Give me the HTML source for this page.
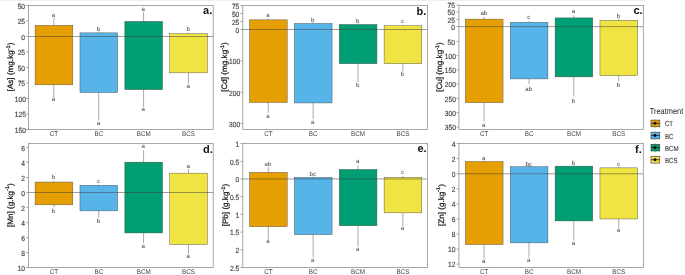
<!DOCTYPE html>
<html><head><meta charset="utf-8"><title>Figure</title>
<style>html,body{margin:0;padding:0;background:#fff;width:685px;height:275px;overflow:hidden;font-family:"Liberation Sans",sans-serif;}</style>
</head><body>
<svg width="685" height="275" viewBox="0 0 685 275" style="display:block;position:absolute;left:0;top:0;will-change:transform;opacity:0.999" text-rendering="geometricPrecision" font-family="Liberation Sans, sans-serif">
<rect x="0" y="0" width="685" height="275" fill="#ffffff"/>
<rect x="0" y="0" width="644.7" height="1" fill="#eeeeee"/>
<line x1="53.85" y1="17.95" x2="53.85" y2="97.65" stroke="#707070" stroke-width="0.6"/>
<rect x="35.10" y="25.35" width="37.70" height="59.50" fill="#E69F00" stroke="#505050" stroke-width="0.45"/>
<text x="53.55" y="16.65" font-size="6.1" text-anchor="middle" fill="#454545">a</text>
<text x="53.55" y="101.45" font-size="6.1" text-anchor="middle" fill="#454545">a</text>
<line x1="98.72" y1="31.65" x2="98.72" y2="120.35" stroke="#707070" stroke-width="0.6"/>
<rect x="79.97" y="32.85" width="37.70" height="59.70" fill="#56B4E9" stroke="#505050" stroke-width="0.45"/>
<text x="98.42" y="30.75" font-size="6.1" text-anchor="middle" fill="#454545">b</text>
<text x="98.42" y="125.25" font-size="6.1" text-anchor="middle" fill="#454545">a</text>
<line x1="143.59" y1="11.85" x2="143.59" y2="106.85" stroke="#707070" stroke-width="0.6"/>
<rect x="124.84" y="21.35" width="37.70" height="68.30" fill="#009E73" stroke="#505050" stroke-width="0.45"/>
<text x="143.29" y="10.85" font-size="6.1" text-anchor="middle" fill="#454545">a</text>
<text x="143.29" y="110.85" font-size="6.1" text-anchor="middle" fill="#454545">a</text>
<line x1="188.46" y1="32.65" x2="188.46" y2="83.75" stroke="#707070" stroke-width="0.6"/>
<rect x="169.71" y="33.65" width="37.70" height="39.20" fill="#F0E442" stroke="#505050" stroke-width="0.45"/>
<text x="188.16" y="31.45" font-size="6.1" text-anchor="middle" fill="#454545">b</text>
<text x="188.16" y="87.55" font-size="6.1" text-anchor="middle" fill="#454545">a</text>
<line x1="28.55" y1="36.50" x2="213.20" y2="36.50" stroke="#3c3c3c" stroke-width="0.5"/>
<rect x="28.55" y="5.50" width="184.65" height="124.00" fill="none" stroke="#8a8a8a" stroke-width="0.75"/>
<line x1="26.15" y1="5.50" x2="28.55" y2="5.50" stroke="#8a8a8a" stroke-width="0.75"/>
<text transform="translate(25.05,8.75) scale(0.885,1)" font-size="7.5" text-anchor="end" fill="#454545" stroke="#454545" stroke-width="0.18">50</text>
<line x1="26.15" y1="21.00" x2="28.55" y2="21.00" stroke="#8a8a8a" stroke-width="0.75"/>
<text transform="translate(25.05,24.25) scale(0.885,1)" font-size="7.5" text-anchor="end" fill="#454545" stroke="#454545" stroke-width="0.18">25</text>
<line x1="26.15" y1="36.50" x2="28.55" y2="36.50" stroke="#8a8a8a" stroke-width="0.75"/>
<text transform="translate(25.05,39.75) scale(0.885,1)" font-size="7.5" text-anchor="end" fill="#454545" stroke="#454545" stroke-width="0.18">0</text>
<line x1="26.15" y1="52.00" x2="28.55" y2="52.00" stroke="#8a8a8a" stroke-width="0.75"/>
<text transform="translate(25.05,55.25) scale(0.885,1)" font-size="7.5" text-anchor="end" fill="#454545" stroke="#454545" stroke-width="0.18">25</text>
<line x1="26.15" y1="67.50" x2="28.55" y2="67.50" stroke="#8a8a8a" stroke-width="0.75"/>
<text transform="translate(25.05,70.75) scale(0.885,1)" font-size="7.5" text-anchor="end" fill="#454545" stroke="#454545" stroke-width="0.18">50</text>
<line x1="26.15" y1="83.00" x2="28.55" y2="83.00" stroke="#8a8a8a" stroke-width="0.75"/>
<text transform="translate(25.05,86.25) scale(0.885,1)" font-size="7.5" text-anchor="end" fill="#454545" stroke="#454545" stroke-width="0.18">75</text>
<line x1="26.15" y1="98.50" x2="28.55" y2="98.50" stroke="#8a8a8a" stroke-width="0.75"/>
<text transform="translate(25.95,101.75) scale(0.885,1)" font-size="7.5" text-anchor="end" fill="#454545" stroke="#454545" stroke-width="0.18">100</text>
<line x1="26.15" y1="114.00" x2="28.55" y2="114.00" stroke="#8a8a8a" stroke-width="0.75"/>
<text transform="translate(25.95,117.25) scale(0.885,1)" font-size="7.5" text-anchor="end" fill="#454545" stroke="#454545" stroke-width="0.18">125</text>
<line x1="26.15" y1="129.50" x2="28.55" y2="129.50" stroke="#8a8a8a" stroke-width="0.75"/>
<text transform="translate(25.95,132.75) scale(0.885,1)" font-size="7.5" text-anchor="end" fill="#454545" stroke="#454545" stroke-width="0.18">150</text>
<text transform="translate(53.95,136.10) scale(0.93,1)" font-size="6.75" text-anchor="middle" fill="#454545">CT</text>
<text transform="translate(98.82,136.10) scale(0.93,1)" font-size="6.75" text-anchor="middle" fill="#454545">BC</text>
<text transform="translate(143.69,136.10) scale(0.93,1)" font-size="6.75" text-anchor="middle" fill="#454545">BCM</text>
<text transform="translate(188.56,136.10) scale(0.93,1)" font-size="6.75" text-anchor="middle" fill="#454545">BCS</text>
<text x="212.30" y="14.10" font-size="11" text-anchor="end" fill="#111" font-weight="bold">a.</text>
<text transform="translate(13.15,67.00) rotate(-90) scale(1.03,1)" font-size="7.9" text-anchor="middle" fill="#1a1a1a" stroke="#1a1a1a" stroke-width="0.25">[As] (mg.kg<tspan font-size="5.4" dy="-3.4">-1</tspan><tspan dy="3.4">)</tspan></text>
<line x1="268.25" y1="18.65" x2="268.25" y2="113.15" stroke="#707070" stroke-width="0.6"/>
<rect x="249.50" y="19.85" width="37.70" height="82.60" fill="#E69F00" stroke="#505050" stroke-width="0.45"/>
<text x="267.95" y="16.95" font-size="6.1" text-anchor="middle" fill="#454545">a</text>
<text x="267.95" y="118.15" font-size="6.1" text-anchor="middle" fill="#454545">a</text>
<line x1="313.12" y1="22.45" x2="313.12" y2="119.35" stroke="#707070" stroke-width="0.6"/>
<rect x="294.37" y="23.45" width="37.70" height="79.50" fill="#56B4E9" stroke="#505050" stroke-width="0.45"/>
<text x="312.82" y="21.55" font-size="6.1" text-anchor="middle" fill="#454545">b</text>
<text x="312.82" y="124.05" font-size="6.1" text-anchor="middle" fill="#454545">a</text>
<line x1="357.99" y1="23.45" x2="357.99" y2="82.05" stroke="#707070" stroke-width="0.6"/>
<rect x="339.24" y="24.45" width="37.70" height="39.30" fill="#009E73" stroke="#505050" stroke-width="0.45"/>
<text x="357.69" y="22.55" font-size="6.1" text-anchor="middle" fill="#454545">b</text>
<text x="357.69" y="86.95" font-size="6.1" text-anchor="middle" fill="#454545">b</text>
<line x1="402.86" y1="24.75" x2="402.86" y2="71.45" stroke="#707070" stroke-width="0.6"/>
<rect x="384.11" y="25.75" width="37.70" height="38.00" fill="#F0E442" stroke="#505050" stroke-width="0.45"/>
<text x="402.56" y="23.25" font-size="6.1" text-anchor="middle" fill="#454545">c</text>
<text x="402.56" y="76.35" font-size="6.1" text-anchor="middle" fill="#454545">b</text>
<line x1="242.80" y1="29.50" x2="427.50" y2="29.50" stroke="#3c3c3c" stroke-width="0.5"/>
<rect x="242.80" y="5.50" width="184.70" height="124.00" fill="none" stroke="#8a8a8a" stroke-width="0.75"/>
<line x1="240.40" y1="5.50" x2="242.80" y2="5.50" stroke="#8a8a8a" stroke-width="0.75"/>
<text transform="translate(239.30,8.75) scale(0.885,1)" font-size="7.5" text-anchor="end" fill="#454545" stroke="#454545" stroke-width="0.18">75</text>
<line x1="240.40" y1="13.50" x2="242.80" y2="13.50" stroke="#8a8a8a" stroke-width="0.75"/>
<text transform="translate(239.30,16.75) scale(0.885,1)" font-size="7.5" text-anchor="end" fill="#454545" stroke="#454545" stroke-width="0.18">50</text>
<line x1="240.40" y1="21.50" x2="242.80" y2="21.50" stroke="#8a8a8a" stroke-width="0.75"/>
<text transform="translate(239.30,24.75) scale(0.885,1)" font-size="7.5" text-anchor="end" fill="#454545" stroke="#454545" stroke-width="0.18">25</text>
<line x1="240.40" y1="29.50" x2="242.80" y2="29.50" stroke="#8a8a8a" stroke-width="0.75"/>
<text transform="translate(239.30,32.75) scale(0.885,1)" font-size="7.5" text-anchor="end" fill="#454545" stroke="#454545" stroke-width="0.18">0</text>
<line x1="240.40" y1="60.88" x2="242.80" y2="60.88" stroke="#8a8a8a" stroke-width="0.75"/>
<text transform="translate(240.20,64.13) scale(0.885,1)" font-size="7.5" text-anchor="end" fill="#454545" stroke="#454545" stroke-width="0.18">100</text>
<line x1="240.40" y1="92.26" x2="242.80" y2="92.26" stroke="#8a8a8a" stroke-width="0.75"/>
<text transform="translate(240.20,95.51) scale(0.885,1)" font-size="7.5" text-anchor="end" fill="#454545" stroke="#454545" stroke-width="0.18">200</text>
<line x1="240.40" y1="123.64" x2="242.80" y2="123.64" stroke="#8a8a8a" stroke-width="0.75"/>
<text transform="translate(240.20,126.89) scale(0.885,1)" font-size="7.5" text-anchor="end" fill="#454545" stroke="#454545" stroke-width="0.18">300</text>
<text transform="translate(268.35,136.10) scale(0.93,1)" font-size="6.75" text-anchor="middle" fill="#454545">CT</text>
<text transform="translate(313.22,136.10) scale(0.93,1)" font-size="6.75" text-anchor="middle" fill="#454545">BC</text>
<text transform="translate(358.09,136.10) scale(0.93,1)" font-size="6.75" text-anchor="middle" fill="#454545">BCM</text>
<text transform="translate(402.96,136.10) scale(0.93,1)" font-size="6.75" text-anchor="middle" fill="#454545">BCS</text>
<text x="426.20" y="15.30" font-size="11" text-anchor="end" fill="#111" font-weight="bold">b.</text>
<text transform="translate(227.40,67.00) rotate(-90) scale(1.03,1)" font-size="7.9" text-anchor="middle" fill="#1a1a1a" stroke="#1a1a1a" stroke-width="0.25">[Cd] (mg.kg<tspan font-size="5.4" dy="-3.4">-1</tspan><tspan dy="3.4">)</tspan></text>
<line x1="484.10" y1="16.90" x2="484.10" y2="121.30" stroke="#707070" stroke-width="0.6"/>
<rect x="465.35" y="19.10" width="37.70" height="83.60" fill="#E69F00" stroke="#505050" stroke-width="0.45"/>
<text x="483.80" y="14.80" font-size="6.1" text-anchor="middle" fill="#454545">ab</text>
<text x="483.80" y="126.60" font-size="6.1" text-anchor="middle" fill="#454545">a</text>
<line x1="528.97" y1="21.30" x2="528.97" y2="84.00" stroke="#707070" stroke-width="0.6"/>
<rect x="510.22" y="22.30" width="37.70" height="56.60" fill="#56B4E9" stroke="#505050" stroke-width="0.45"/>
<text x="528.67" y="19.30" font-size="6.1" text-anchor="middle" fill="#454545">c</text>
<text x="528.67" y="90.70" font-size="6.1" text-anchor="middle" fill="#454545">ab</text>
<line x1="573.84" y1="15.40" x2="573.84" y2="96.50" stroke="#707070" stroke-width="0.6"/>
<rect x="555.09" y="17.90" width="37.70" height="59.00" fill="#009E73" stroke="#505050" stroke-width="0.45"/>
<text x="573.54" y="13.30" font-size="6.1" text-anchor="middle" fill="#454545">a</text>
<text x="573.54" y="102.90" font-size="6.1" text-anchor="middle" fill="#454545">b</text>
<line x1="618.71" y1="18.90" x2="618.71" y2="80.90" stroke="#707070" stroke-width="0.6"/>
<rect x="599.96" y="20.30" width="37.70" height="55.40" fill="#F0E442" stroke="#505050" stroke-width="0.45"/>
<text x="618.41" y="18.00" font-size="6.1" text-anchor="middle" fill="#454545">b</text>
<text x="618.41" y="87.00" font-size="6.1" text-anchor="middle" fill="#454545">b</text>
<line x1="458.95" y1="26.65" x2="643.30" y2="26.65" stroke="#3c3c3c" stroke-width="0.5"/>
<rect x="458.95" y="5.50" width="184.35" height="124.00" fill="none" stroke="#8a8a8a" stroke-width="0.75"/>
<line x1="456.55" y1="5.05" x2="458.95" y2="5.05" stroke="#8a8a8a" stroke-width="0.75"/>
<text transform="translate(454.95,8.30) scale(0.885,1)" font-size="7.5" text-anchor="end" fill="#454545" stroke="#454545" stroke-width="0.18">75</text>
<line x1="456.55" y1="12.20" x2="458.95" y2="12.20" stroke="#8a8a8a" stroke-width="0.75"/>
<text transform="translate(454.95,15.45) scale(0.885,1)" font-size="7.5" text-anchor="end" fill="#454545" stroke="#454545" stroke-width="0.18">50</text>
<line x1="456.55" y1="19.35" x2="458.95" y2="19.35" stroke="#8a8a8a" stroke-width="0.75"/>
<text transform="translate(454.95,22.60) scale(0.885,1)" font-size="7.5" text-anchor="end" fill="#454545" stroke="#454545" stroke-width="0.18">25</text>
<line x1="456.55" y1="26.50" x2="458.95" y2="26.50" stroke="#8a8a8a" stroke-width="0.75"/>
<text transform="translate(454.95,29.75) scale(0.885,1)" font-size="7.5" text-anchor="end" fill="#454545" stroke="#454545" stroke-width="0.18">0</text>
<line x1="456.55" y1="41.41" x2="458.95" y2="41.41" stroke="#8a8a8a" stroke-width="0.75"/>
<text transform="translate(454.95,44.66) scale(0.885,1)" font-size="7.5" text-anchor="end" fill="#454545" stroke="#454545" stroke-width="0.18">50</text>
<line x1="456.55" y1="55.68" x2="458.95" y2="55.68" stroke="#8a8a8a" stroke-width="0.75"/>
<text transform="translate(455.85,58.93) scale(0.885,1)" font-size="7.5" text-anchor="end" fill="#454545" stroke="#454545" stroke-width="0.18">100</text>
<line x1="456.55" y1="69.94" x2="458.95" y2="69.94" stroke="#8a8a8a" stroke-width="0.75"/>
<text transform="translate(455.85,73.19) scale(0.885,1)" font-size="7.5" text-anchor="end" fill="#454545" stroke="#454545" stroke-width="0.18">150</text>
<line x1="456.55" y1="84.21" x2="458.95" y2="84.21" stroke="#8a8a8a" stroke-width="0.75"/>
<text transform="translate(455.85,87.46) scale(0.885,1)" font-size="7.5" text-anchor="end" fill="#454545" stroke="#454545" stroke-width="0.18">200</text>
<line x1="456.55" y1="98.47" x2="458.95" y2="98.47" stroke="#8a8a8a" stroke-width="0.75"/>
<text transform="translate(455.85,101.72) scale(0.885,1)" font-size="7.5" text-anchor="end" fill="#454545" stroke="#454545" stroke-width="0.18">250</text>
<line x1="456.55" y1="112.74" x2="458.95" y2="112.74" stroke="#8a8a8a" stroke-width="0.75"/>
<text transform="translate(455.85,115.99) scale(0.885,1)" font-size="7.5" text-anchor="end" fill="#454545" stroke="#454545" stroke-width="0.18">300</text>
<line x1="456.55" y1="127.00" x2="458.95" y2="127.00" stroke="#8a8a8a" stroke-width="0.75"/>
<text transform="translate(455.85,130.25) scale(0.885,1)" font-size="7.5" text-anchor="end" fill="#454545" stroke="#454545" stroke-width="0.18">350</text>
<text transform="translate(484.20,136.10) scale(0.93,1)" font-size="6.75" text-anchor="middle" fill="#454545">CT</text>
<text transform="translate(529.07,136.10) scale(0.93,1)" font-size="6.75" text-anchor="middle" fill="#454545">BC</text>
<text transform="translate(573.94,136.10) scale(0.93,1)" font-size="6.75" text-anchor="middle" fill="#454545">BCM</text>
<text transform="translate(618.81,136.10) scale(0.93,1)" font-size="6.75" text-anchor="middle" fill="#454545">BCS</text>
<text x="642.60" y="14.10" font-size="11" text-anchor="end" fill="#111" font-weight="bold">c.</text>
<text transform="translate(442.15,67.00) rotate(-90) scale(1.03,1)" font-size="7.9" text-anchor="middle" fill="#1a1a1a" stroke="#1a1a1a" stroke-width="0.25">[Cu] (mg.kg<tspan font-size="5.4" dy="-3.4">-1</tspan><tspan dy="3.4">)</tspan></text>
<line x1="53.85" y1="180.75" x2="53.85" y2="207.15" stroke="#707070" stroke-width="0.6"/>
<rect x="35.10" y="182.05" width="37.70" height="22.80" fill="#E69F00" stroke="#505050" stroke-width="0.45"/>
<text x="53.55" y="179.25" font-size="6.1" text-anchor="middle" fill="#454545">b</text>
<text x="53.55" y="212.75" font-size="6.1" text-anchor="middle" fill="#454545">b</text>
<line x1="98.72" y1="184.45" x2="98.72" y2="217.75" stroke="#707070" stroke-width="0.6"/>
<rect x="79.97" y="185.25" width="37.70" height="25.60" fill="#56B4E9" stroke="#505050" stroke-width="0.45"/>
<text x="98.42" y="182.85" font-size="6.1" text-anchor="middle" fill="#454545">c</text>
<text x="98.42" y="223.45" font-size="6.1" text-anchor="middle" fill="#454545">b</text>
<line x1="143.59" y1="150.25" x2="143.59" y2="243.15" stroke="#707070" stroke-width="0.6"/>
<rect x="124.84" y="162.15" width="37.70" height="70.80" fill="#009E73" stroke="#505050" stroke-width="0.45"/>
<text x="143.29" y="148.35" font-size="6.1" text-anchor="middle" fill="#454545">a</text>
<text x="143.29" y="247.65" font-size="6.1" text-anchor="middle" fill="#454545">a</text>
<line x1="188.46" y1="169.15" x2="188.46" y2="253.75" stroke="#707070" stroke-width="0.6"/>
<rect x="169.71" y="173.15" width="37.70" height="71.40" fill="#F0E442" stroke="#505050" stroke-width="0.45"/>
<text x="188.16" y="167.75" font-size="6.1" text-anchor="middle" fill="#454545">a</text>
<text x="188.16" y="257.55" font-size="6.1" text-anchor="middle" fill="#454545">a</text>
<line x1="28.55" y1="192.50" x2="213.20" y2="192.50" stroke="#3c3c3c" stroke-width="0.5"/>
<rect x="28.55" y="143.60" width="184.65" height="124.00" fill="none" stroke="#8a8a8a" stroke-width="0.75"/>
<line x1="26.15" y1="147.30" x2="28.55" y2="147.30" stroke="#8a8a8a" stroke-width="0.75"/>
<text transform="translate(25.05,150.55) scale(0.885,1)" font-size="7.5" text-anchor="end" fill="#454545" stroke="#454545" stroke-width="0.18">6</text>
<line x1="26.15" y1="162.40" x2="28.55" y2="162.40" stroke="#8a8a8a" stroke-width="0.75"/>
<text transform="translate(25.05,165.65) scale(0.885,1)" font-size="7.5" text-anchor="end" fill="#454545" stroke="#454545" stroke-width="0.18">4</text>
<line x1="26.15" y1="177.50" x2="28.55" y2="177.50" stroke="#8a8a8a" stroke-width="0.75"/>
<text transform="translate(25.05,180.75) scale(0.885,1)" font-size="7.5" text-anchor="end" fill="#454545" stroke="#454545" stroke-width="0.18">2</text>
<line x1="26.15" y1="192.60" x2="28.55" y2="192.60" stroke="#8a8a8a" stroke-width="0.75"/>
<text transform="translate(25.05,195.85) scale(0.885,1)" font-size="7.5" text-anchor="end" fill="#454545" stroke="#454545" stroke-width="0.18">0</text>
<line x1="26.15" y1="207.60" x2="28.55" y2="207.60" stroke="#8a8a8a" stroke-width="0.75"/>
<text transform="translate(25.05,210.85) scale(0.885,1)" font-size="7.5" text-anchor="end" fill="#454545" stroke="#454545" stroke-width="0.18">2</text>
<line x1="26.15" y1="222.60" x2="28.55" y2="222.60" stroke="#8a8a8a" stroke-width="0.75"/>
<text transform="translate(25.05,225.85) scale(0.885,1)" font-size="7.5" text-anchor="end" fill="#454545" stroke="#454545" stroke-width="0.18">4</text>
<line x1="26.15" y1="237.60" x2="28.55" y2="237.60" stroke="#8a8a8a" stroke-width="0.75"/>
<text transform="translate(25.05,240.85) scale(0.885,1)" font-size="7.5" text-anchor="end" fill="#454545" stroke="#454545" stroke-width="0.18">6</text>
<line x1="26.15" y1="252.60" x2="28.55" y2="252.60" stroke="#8a8a8a" stroke-width="0.75"/>
<text transform="translate(25.05,255.85) scale(0.885,1)" font-size="7.5" text-anchor="end" fill="#454545" stroke="#454545" stroke-width="0.18">8</text>
<line x1="26.15" y1="267.60" x2="28.55" y2="267.60" stroke="#8a8a8a" stroke-width="0.75"/>
<text transform="translate(25.05,270.85) scale(0.885,1)" font-size="7.5" text-anchor="end" fill="#454545" stroke="#454545" stroke-width="0.18">10</text>
<text transform="translate(53.95,274.20) scale(0.93,1)" font-size="6.75" text-anchor="middle" fill="#454545">CT</text>
<text transform="translate(98.82,274.20) scale(0.93,1)" font-size="6.75" text-anchor="middle" fill="#454545">BC</text>
<text transform="translate(143.69,274.20) scale(0.93,1)" font-size="6.75" text-anchor="middle" fill="#454545">BCM</text>
<text transform="translate(188.56,274.20) scale(0.93,1)" font-size="6.75" text-anchor="middle" fill="#454545">BCS</text>
<text x="212.70" y="153.40" font-size="11" text-anchor="end" fill="#111" font-weight="bold">d.</text>
<text transform="translate(12.65,205.10) rotate(-90) scale(1.03,1)" font-size="7.9" text-anchor="middle" fill="#1a1a1a" stroke="#1a1a1a" stroke-width="0.25">[Mn] (g.kg<tspan font-size="5.4" dy="-3.4">-1</tspan><tspan dy="3.4">)</tspan></text>
<line x1="268.25" y1="167.15" x2="268.25" y2="239.65" stroke="#707070" stroke-width="0.6"/>
<rect x="249.50" y="172.35" width="37.70" height="54.40" fill="#E69F00" stroke="#505050" stroke-width="0.45"/>
<text x="267.95" y="166.05" font-size="6.1" text-anchor="middle" fill="#454545">ab</text>
<text x="267.95" y="243.45" font-size="6.1" text-anchor="middle" fill="#454545">a</text>
<line x1="313.12" y1="176.55" x2="313.12" y2="257.45" stroke="#707070" stroke-width="0.6"/>
<rect x="294.37" y="177.35" width="37.70" height="57.30" fill="#56B4E9" stroke="#505050" stroke-width="0.45"/>
<text x="312.82" y="175.75" font-size="6.1" text-anchor="middle" fill="#454545">bc</text>
<text x="312.82" y="262.45" font-size="6.1" text-anchor="middle" fill="#454545">a</text>
<line x1="357.99" y1="165.45" x2="357.99" y2="246.35" stroke="#707070" stroke-width="0.6"/>
<rect x="339.24" y="169.45" width="37.70" height="56.30" fill="#009E73" stroke="#505050" stroke-width="0.45"/>
<text x="357.69" y="162.75" font-size="6.1" text-anchor="middle" fill="#454545">a</text>
<text x="357.69" y="250.65" font-size="6.1" text-anchor="middle" fill="#454545">a</text>
<line x1="402.86" y1="176.15" x2="402.86" y2="225.95" stroke="#707070" stroke-width="0.6"/>
<rect x="384.11" y="177.35" width="37.70" height="35.50" fill="#F0E442" stroke="#505050" stroke-width="0.45"/>
<text x="402.56" y="174.15" font-size="6.1" text-anchor="middle" fill="#454545">c</text>
<text x="402.56" y="230.25" font-size="6.1" text-anchor="middle" fill="#454545">a</text>
<line x1="242.80" y1="178.95" x2="427.50" y2="178.95" stroke="#3c3c3c" stroke-width="0.5"/>
<rect x="242.80" y="143.60" width="184.70" height="124.00" fill="none" stroke="#8a8a8a" stroke-width="0.75"/>
<line x1="240.40" y1="143.60" x2="242.80" y2="143.60" stroke="#8a8a8a" stroke-width="0.75"/>
<text transform="translate(239.30,146.85) scale(0.885,1)" font-size="7.5" text-anchor="end" fill="#454545" stroke="#454545" stroke-width="0.18">1</text>
<line x1="240.40" y1="161.30" x2="242.80" y2="161.30" stroke="#8a8a8a" stroke-width="0.75"/>
<text transform="translate(239.30,164.55) scale(0.885,1)" font-size="7.5" text-anchor="end" fill="#454545" stroke="#454545" stroke-width="0.18">0.5</text>
<line x1="240.40" y1="179.00" x2="242.80" y2="179.00" stroke="#8a8a8a" stroke-width="0.75"/>
<text transform="translate(239.30,182.25) scale(0.885,1)" font-size="7.5" text-anchor="end" fill="#454545" stroke="#454545" stroke-width="0.18">0</text>
<line x1="240.40" y1="196.70" x2="242.80" y2="196.70" stroke="#8a8a8a" stroke-width="0.75"/>
<text transform="translate(239.30,199.95) scale(0.885,1)" font-size="7.5" text-anchor="end" fill="#454545" stroke="#454545" stroke-width="0.18">0.5</text>
<line x1="240.40" y1="214.40" x2="242.80" y2="214.40" stroke="#8a8a8a" stroke-width="0.75"/>
<text transform="translate(239.30,217.65) scale(0.885,1)" font-size="7.5" text-anchor="end" fill="#454545" stroke="#454545" stroke-width="0.18">1</text>
<line x1="240.40" y1="232.10" x2="242.80" y2="232.10" stroke="#8a8a8a" stroke-width="0.75"/>
<text transform="translate(239.30,235.35) scale(0.885,1)" font-size="7.5" text-anchor="end" fill="#454545" stroke="#454545" stroke-width="0.18">1.5</text>
<line x1="240.40" y1="249.80" x2="242.80" y2="249.80" stroke="#8a8a8a" stroke-width="0.75"/>
<text transform="translate(239.30,253.05) scale(0.885,1)" font-size="7.5" text-anchor="end" fill="#454545" stroke="#454545" stroke-width="0.18">2</text>
<line x1="240.40" y1="267.50" x2="242.80" y2="267.50" stroke="#8a8a8a" stroke-width="0.75"/>
<text transform="translate(239.30,270.75) scale(0.885,1)" font-size="7.5" text-anchor="end" fill="#454545" stroke="#454545" stroke-width="0.18">2.5</text>
<text transform="translate(268.35,274.20) scale(0.93,1)" font-size="6.75" text-anchor="middle" fill="#454545">CT</text>
<text transform="translate(313.22,274.20) scale(0.93,1)" font-size="6.75" text-anchor="middle" fill="#454545">BC</text>
<text transform="translate(358.09,274.20) scale(0.93,1)" font-size="6.75" text-anchor="middle" fill="#454545">BCM</text>
<text transform="translate(402.96,274.20) scale(0.93,1)" font-size="6.75" text-anchor="middle" fill="#454545">BCS</text>
<text x="426.70" y="151.70" font-size="11" text-anchor="end" fill="#111" font-weight="bold">e.</text>
<text transform="translate(228.00,205.10) rotate(-90) scale(1.03,1)" font-size="7.9" text-anchor="middle" fill="#1a1a1a" stroke="#1a1a1a" stroke-width="0.25">[Pb] (g.kg<tspan font-size="5.4" dy="-3.4">-1</tspan><tspan dy="3.4">)</tspan></text>
<line x1="484.10" y1="160.55" x2="484.10" y2="258.95" stroke="#707070" stroke-width="0.6"/>
<rect x="465.35" y="161.45" width="37.70" height="83.10" fill="#E69F00" stroke="#505050" stroke-width="0.45"/>
<text x="483.80" y="159.75" font-size="6.1" text-anchor="middle" fill="#454545">a</text>
<text x="483.80" y="262.95" font-size="6.1" text-anchor="middle" fill="#454545">a</text>
<line x1="528.97" y1="165.95" x2="528.97" y2="257.65" stroke="#707070" stroke-width="0.6"/>
<rect x="510.22" y="166.65" width="37.70" height="76.20" fill="#56B4E9" stroke="#505050" stroke-width="0.45"/>
<text x="528.67" y="165.75" font-size="6.1" text-anchor="middle" fill="#454545">bc</text>
<text x="528.67" y="261.95" font-size="6.1" text-anchor="middle" fill="#454545">a</text>
<line x1="573.84" y1="165.35" x2="573.84" y2="240.35" stroke="#707070" stroke-width="0.6"/>
<rect x="555.09" y="166.15" width="37.70" height="54.80" fill="#009E73" stroke="#505050" stroke-width="0.45"/>
<text x="573.54" y="164.75" font-size="6.1" text-anchor="middle" fill="#454545">b</text>
<text x="573.54" y="244.65" font-size="6.1" text-anchor="middle" fill="#454545">a</text>
<line x1="618.71" y1="166.95" x2="618.71" y2="228.35" stroke="#707070" stroke-width="0.6"/>
<rect x="599.96" y="167.85" width="37.70" height="51.10" fill="#F0E442" stroke="#505050" stroke-width="0.45"/>
<text x="618.41" y="165.95" font-size="6.1" text-anchor="middle" fill="#454545">c</text>
<text x="618.41" y="232.45" font-size="6.1" text-anchor="middle" fill="#454545">a</text>
<line x1="458.95" y1="173.80" x2="643.30" y2="173.80" stroke="#3c3c3c" stroke-width="0.5"/>
<rect x="458.95" y="143.60" width="184.35" height="124.00" fill="none" stroke="#8a8a8a" stroke-width="0.75"/>
<line x1="456.55" y1="143.60" x2="458.95" y2="143.60" stroke="#8a8a8a" stroke-width="0.75"/>
<text transform="translate(455.45,146.85) scale(0.885,1)" font-size="7.5" text-anchor="end" fill="#454545" stroke="#454545" stroke-width="0.18">4</text>
<line x1="456.55" y1="158.70" x2="458.95" y2="158.70" stroke="#8a8a8a" stroke-width="0.75"/>
<text transform="translate(455.45,161.95) scale(0.885,1)" font-size="7.5" text-anchor="end" fill="#454545" stroke="#454545" stroke-width="0.18">2</text>
<line x1="456.55" y1="173.80" x2="458.95" y2="173.80" stroke="#8a8a8a" stroke-width="0.75"/>
<text transform="translate(455.45,177.05) scale(0.885,1)" font-size="7.5" text-anchor="end" fill="#454545" stroke="#454545" stroke-width="0.18">0</text>
<line x1="456.55" y1="188.86" x2="458.95" y2="188.86" stroke="#8a8a8a" stroke-width="0.75"/>
<text transform="translate(455.45,192.11) scale(0.885,1)" font-size="7.5" text-anchor="end" fill="#454545" stroke="#454545" stroke-width="0.18">2</text>
<line x1="456.55" y1="203.92" x2="458.95" y2="203.92" stroke="#8a8a8a" stroke-width="0.75"/>
<text transform="translate(455.45,207.17) scale(0.885,1)" font-size="7.5" text-anchor="end" fill="#454545" stroke="#454545" stroke-width="0.18">4</text>
<line x1="456.55" y1="218.98" x2="458.95" y2="218.98" stroke="#8a8a8a" stroke-width="0.75"/>
<text transform="translate(455.45,222.23) scale(0.885,1)" font-size="7.5" text-anchor="end" fill="#454545" stroke="#454545" stroke-width="0.18">6</text>
<line x1="456.55" y1="234.04" x2="458.95" y2="234.04" stroke="#8a8a8a" stroke-width="0.75"/>
<text transform="translate(455.45,237.29) scale(0.885,1)" font-size="7.5" text-anchor="end" fill="#454545" stroke="#454545" stroke-width="0.18">8</text>
<line x1="456.55" y1="249.10" x2="458.95" y2="249.10" stroke="#8a8a8a" stroke-width="0.75"/>
<text transform="translate(455.45,252.35) scale(0.885,1)" font-size="7.5" text-anchor="end" fill="#454545" stroke="#454545" stroke-width="0.18">10</text>
<line x1="456.55" y1="264.16" x2="458.95" y2="264.16" stroke="#8a8a8a" stroke-width="0.75"/>
<text transform="translate(455.45,267.41) scale(0.885,1)" font-size="7.5" text-anchor="end" fill="#454545" stroke="#454545" stroke-width="0.18">12</text>
<text transform="translate(484.20,274.20) scale(0.93,1)" font-size="6.75" text-anchor="middle" fill="#454545">CT</text>
<text transform="translate(529.07,274.20) scale(0.93,1)" font-size="6.75" text-anchor="middle" fill="#454545">BC</text>
<text transform="translate(573.94,274.20) scale(0.93,1)" font-size="6.75" text-anchor="middle" fill="#454545">BCM</text>
<text transform="translate(618.81,274.20) scale(0.93,1)" font-size="6.75" text-anchor="middle" fill="#454545">BCS</text>
<text x="641.80" y="153.40" font-size="11" text-anchor="end" fill="#111" font-weight="bold">f.</text>
<text transform="translate(443.65,205.10) rotate(-90) scale(1.03,1)" font-size="7.9" text-anchor="middle" fill="#1a1a1a" stroke="#1a1a1a" stroke-width="0.25">[Zn] (g.kg<tspan font-size="5.4" dy="-3.4">-1</tspan><tspan dy="3.4">)</tspan></text>
<text transform="translate(649.80,113.70) scale(0.86,1)" font-size="8.6" text-anchor="start" fill="#222">Treatment</text>
<line x1="655.0" y1="118.70" x2="655.0" y2="128.10" stroke="#8a8a8a" stroke-width="0.5"/>
<rect x="651.0" y="120.10" width="8.8" height="6.7" fill="#E69F00" stroke="#3a3a3a" stroke-width="0.6"/>
<line x1="651.0" y1="123.40" x2="659.8" y2="123.40" stroke="#2a2a2a" stroke-width="0.8"/>
<circle cx="655.0" cy="123.40" r="1.45" fill="#000"/>
<text transform="translate(664.90,126.40) scale(0.84,1)" font-size="7.3" text-anchor="start" fill="#454545" stroke="#454545" stroke-width="0.15">CT</text>
<line x1="655.0" y1="130.80" x2="655.0" y2="140.20" stroke="#8a8a8a" stroke-width="0.5"/>
<rect x="651.0" y="132.20" width="8.8" height="6.7" fill="#56B4E9" stroke="#3a3a3a" stroke-width="0.6"/>
<line x1="651.0" y1="135.50" x2="659.8" y2="135.50" stroke="#2a2a2a" stroke-width="0.8"/>
<circle cx="655.0" cy="135.50" r="1.45" fill="#000"/>
<text transform="translate(664.90,138.50) scale(0.84,1)" font-size="7.3" text-anchor="start" fill="#454545" stroke="#454545" stroke-width="0.15">BC</text>
<line x1="655.0" y1="142.90" x2="655.0" y2="152.30" stroke="#8a8a8a" stroke-width="0.5"/>
<rect x="651.0" y="144.30" width="8.8" height="6.7" fill="#009E73" stroke="#3a3a3a" stroke-width="0.6"/>
<line x1="651.0" y1="147.60" x2="659.8" y2="147.60" stroke="#2a2a2a" stroke-width="0.8"/>
<circle cx="655.0" cy="147.60" r="1.45" fill="#000"/>
<text transform="translate(664.90,150.60) scale(0.84,1)" font-size="7.3" text-anchor="start" fill="#454545" stroke="#454545" stroke-width="0.15">BCM</text>
<line x1="655.0" y1="155.00" x2="655.0" y2="164.40" stroke="#8a8a8a" stroke-width="0.5"/>
<rect x="651.0" y="156.40" width="8.8" height="6.7" fill="#F0E442" stroke="#3a3a3a" stroke-width="0.6"/>
<line x1="651.0" y1="159.70" x2="659.8" y2="159.70" stroke="#2a2a2a" stroke-width="0.8"/>
<circle cx="655.0" cy="159.70" r="1.45" fill="#000"/>
<text transform="translate(664.90,162.70) scale(0.84,1)" font-size="7.3" text-anchor="start" fill="#454545" stroke="#454545" stroke-width="0.15">BCS</text>
</svg>
</body></html>
